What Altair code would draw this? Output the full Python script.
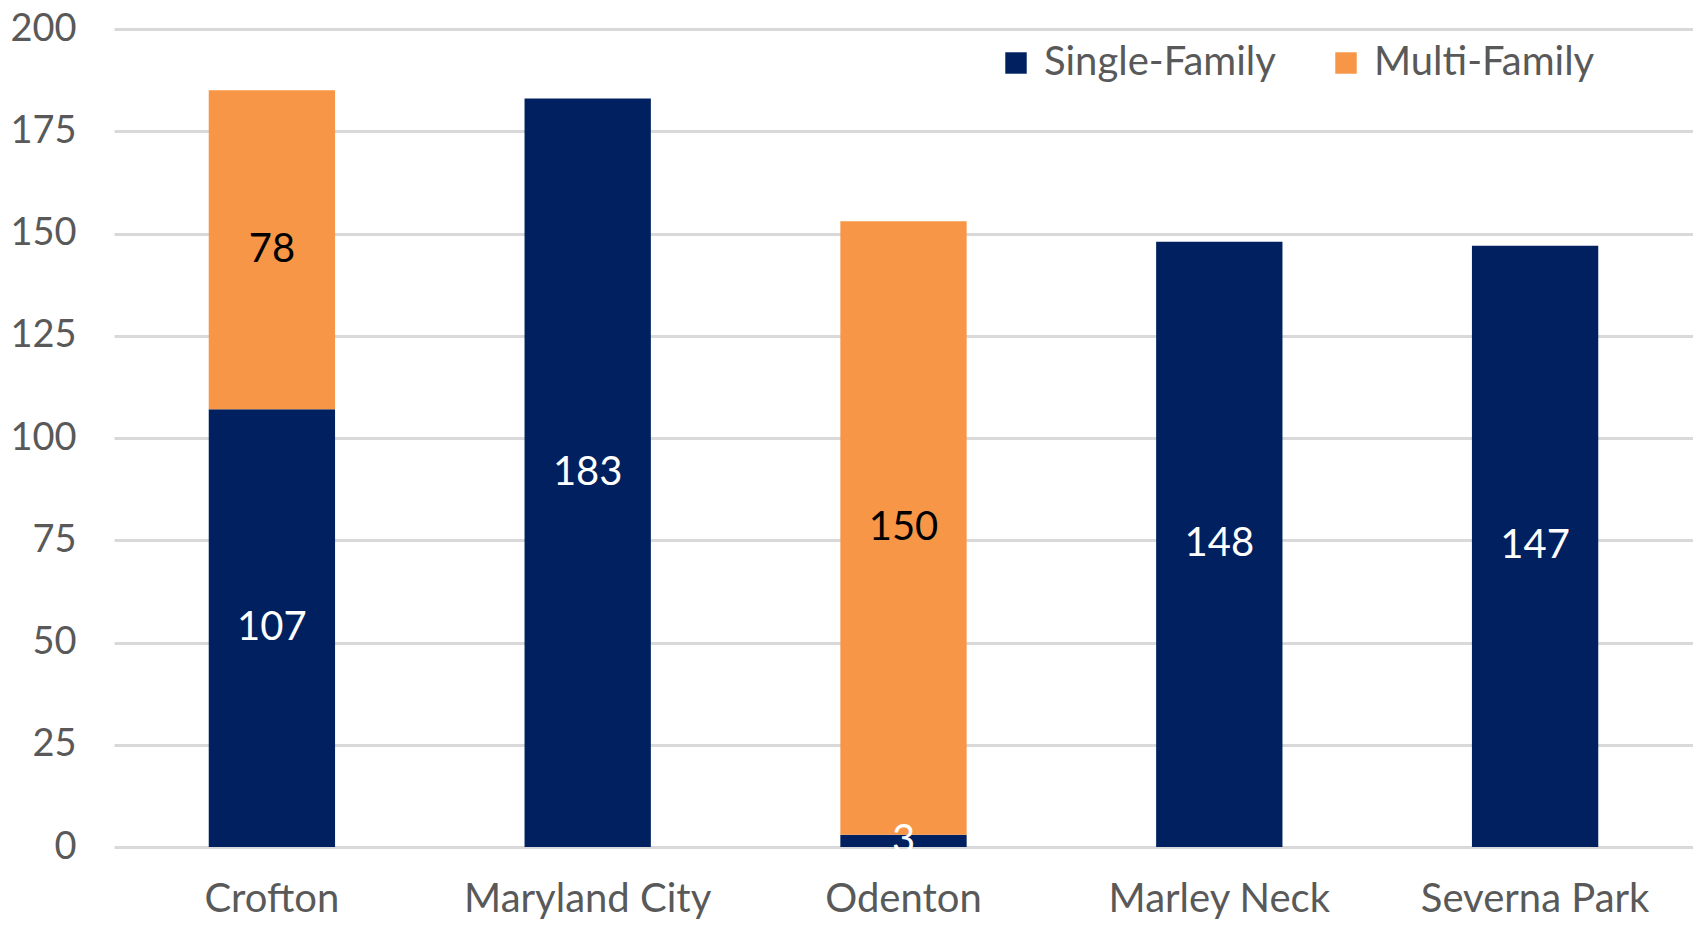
import altair as alt
import pandas as pd

areas = ["Crofton", "Maryland City", "Odenton", "Marley Neck", "Severna Park"]
single_family = [107, 183, 3, 148, 147]
multi_family = [78, 0, 150, 0, 0]
series_names = ["Single-Family", "Multi-Family"]
y_ticks = [0, 25, 50, 75, 100, 125, 150, 175, 200]

rows = []
for a, s, m in zip(areas, single_family, multi_family):
    if s:
        rows.append({"area": a, "series": series_names[0], "value": s, "ord": 0})
    if m:
        rows.append({"area": a, "series": series_names[1], "value": m, "ord": 1})
df = pd.DataFrame(rows)

FONT = "Lato"

base = alt.Chart(df).transform_stack(
    stack="value", groupby=["area"], as_=["v0", "v1"], sort=[alt.SortField("ord", order="ascending")]
).transform_calculate(mid="(datum.v0 + datum.v1) / 2")

x_axis = alt.Axis(
    labelAngle=0, labelFont=FONT, labelFontSize=40, labelColor="#595959",
    ticks=False, domain=False, labelPadding=32, grid=False, labelLimit=0,
)
y_axis = alt.Axis(
    values=y_ticks, labelFont=FONT, labelFontSize=38, labelColor="#595959",
    ticks=False, domain=False, labelPadding=38, labelLimit=0,
    gridColor="#D9D9D9", gridWidth=3,
)
x_scale = alt.Scale(paddingInner=0.6, paddingOuter=0.3)
y_scale = alt.Scale(domain=[0, 200], nice=False)

bars = base.mark_bar().encode(
    x=alt.X("area:N", sort=areas, title=None, scale=x_scale, axis=x_axis),
    y=alt.Y("v0:Q", title=None, scale=y_scale, axis=y_axis),
    y2="v1:Q",
    color=alt.Color(
        "series:N",
        scale=alt.Scale(domain=series_names, range=["#002060", "#F79646"]),
        legend=alt.Legend(
            title=None, orient="none", direction="horizontal",
            legendX=882, legendY=14,
            labelFont=FONT, labelFontSize=40, labelColor="#595959", labelLimit=0,
            symbolType="square", symbolSize=460, symbolStrokeWidth=0,
            columnPadding=50, labelOffset=8,
        ),
    ),
)

labels = base.mark_text(font=FONT, fontSize=40, baseline="middle", align="center").encode(
    x=alt.X("area:N", sort=areas, title=None, scale=x_scale, axis=x_axis),
    y=alt.Y("mid:Q", title=None, scale=y_scale, axis=y_axis),
    text=alt.Text("value:Q"),
    color=alt.condition(
        alt.datum.series == "Single-Family", alt.value("#FFFFFF"), alt.value("#000000")
    ),
)

chart = alt.layer(bars, labels).properties(
    width=1579,
    height=818,
    background="#FFFFFF",
    padding={"left": 106, "top": 21, "right": 0, "bottom": 74},
    autosize=alt.AutoSizeParams(type="none"),
).configure_view(stroke=None)

chart.save("out.html", embed_options={"renderer": "svg", "actions": False})
